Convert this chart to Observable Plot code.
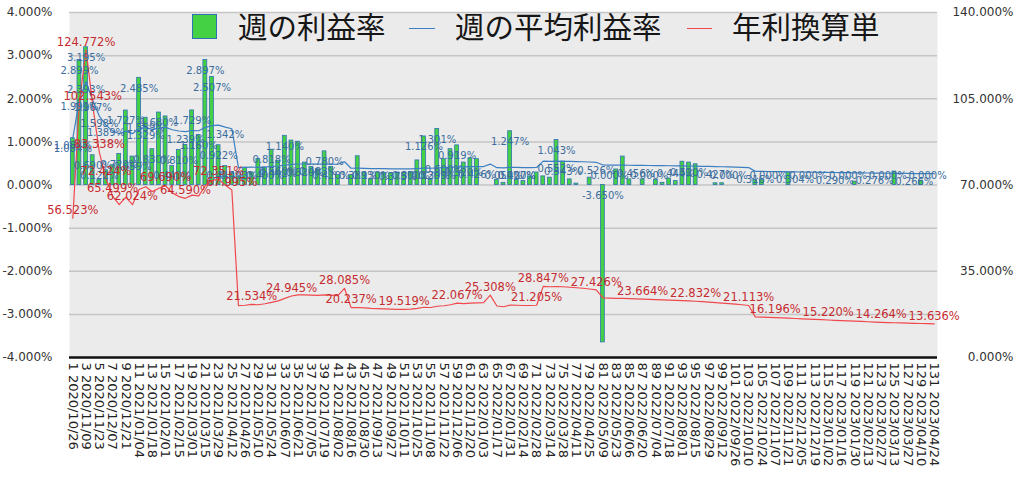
<!DOCTYPE html>
<html><head><meta charset="utf-8">
<script src="https://cdn.jsdelivr.net/npm/d3@7"></script>
<script src="https://cdn.jsdelivr.net/npm/@observablehq/plot@0.6"></script>
<style>
html,body{margin:0;padding:0;background:#fff;}
#wrap{position:relative;width:1024px;height:478px;overflow:hidden;}
#legend{position:absolute;left:0;top:0;width:1024px;height:60px;pointer-events:none;font-family:"Noto Sans CJK JP",sans-serif;}
.lt{position:absolute;top:11px;font-size:29.5px;line-height:29.5px;color:#161616;white-space:nowrap;}
.ln{position:absolute;top:27.5px;height:1.5px;}
</style></head><body>
<div id="wrap"><div id="chart"></div>
<div id="legend">
  <div style="position:absolute;left:192px;top:14px;width:23px;height:23px;background:#44d144;border:1px solid #2f72b3;"></div>
  <div class="lt" style="left:238px;">週の利益率</div>
  <div class="ln" style="left:409px;width:26px;background:#3c7fc2;"></div>
  <div class="lt" style="left:455px;">週の平均利益率</div>
  <div class="ln" style="left:687px;width:25px;background:#f0484c;"></div>
  <div class="lt" style="left:732px;">年利換算単</div>
</div></div>
<script>
// week numbers (categories)
const weekNo = d3.range(1, 132);

// 週の利益率 (%), left axis
const weeklyRate = [
  1.084, 2.899, 3.195, 0.690, 0.122, 0.344, 0.459, 0.720, 1.727, 0.659,
  2.485, 1.559, 0.830, 1.680, 1.590, 0.440, 0.810, 0.930, 1.729, 1.160,
  2.897, 2.507, 0.922, 0.440, 0.290, 0.200, 0.400, 0.290, 0.600, 0.400,
  0.818, 0.560, 1.140, 1.030, 1.004, 0.520, 0.420, 0.360, 0.780, 0.420,
  0.230, 0.000, 0.230, 0.667, 0.290, 0.130, 0.290, 0.280, 0.270, 0.290,
  0.280, 0.300, 0.570, 1.126, 0.120, 1.301, 0.600, 0.830, 0.919, 0.520,
  0.620, 0.600, 0.000, 0.000, 0.120, 0.050, 1.247, 0.120, 0.090, 0.200,
  0.290, 0.200, 0.170, 1.043, 0.543, 0.130, 0.032, 0.000, 0.170, 0.000,
  -3.650, 0.000, 0.360, 0.659, 0.130, 0.000, 0.130, 0.000, 0.120, 0.050,
  0.150, 0.090, 0.540, 0.520, 0.480, 0.000, 0.000, 0.040, 0.040, 0.000,
  0.000, 0.000, 0.000, 0.114, 0.110, 0.000, 0.000, 0.000, 0.290, 0.000,
  0.000, 0.000, 0.000, 0.000, 0.000, 0.000, 0.000, 0.000, 0.079, 0.000,
  0.000, 0.000, 0.000, 0.000, 0.312, 0.000, 0.000, 0.000, 0.100, 0.000, 0.000
];

// 週の平均利益率 (%), left axis
const avgRate = [
  1.084, 1.991, 2.393, 1.967, 1.598, 1.389, 1.256, 1.189, 1.248, 1.190,
  1.308, 1.329, 1.291, 1.318, 1.337, 1.281, 1.252, 1.239, 1.264, 1.258,
  1.337, 1.377, 1.388, 1.342, 1.304, 0.403, 0.407, 0.413, 0.410, 0.418,
  0.430, 0.441, 0.460, 0.478, 0.487, 0.487, 0.485, 0.483, 0.487, 0.485,
  0.481, 0.539, 0.388, 0.389, 0.385, 0.382, 0.380, 0.378, 0.376, 0.375,
  0.374, 0.376, 0.382, 0.391, 0.389, 0.399, 0.403, 0.410, 0.423, 0.420,
  0.424, 0.426, 0.428, 0.485, 0.401, 0.395, 0.408, 0.407, 0.405, 0.405,
  0.407, 0.553, 0.550, 0.552, 0.550, 0.547, 0.543, 0.539, 0.533, 0.526,
  0.464, 0.462, 0.460, 0.460, 0.458, 0.456, 0.454, 0.452, 0.450, 0.448,
  0.446, 0.444, 0.442, 0.440, 0.438, 0.434, 0.431, 0.427, 0.423, 0.419,
  0.415, 0.410, 0.405, 0.316, 0.315, 0.313, 0.311, 0.308, 0.306, 0.304,
  0.301, 0.299, 0.296, 0.294, 0.292, 0.290, 0.287, 0.285, 0.283, 0.280,
  0.278, 0.276, 0.274, 0.272, 0.271, 0.269, 0.268, 0.266, 0.264, 0.263, 0.262
];

// 年利換算単 (%), right axis
const annualRate = [
  56.523, 103.8, 124.772, 102.543, 83.338, 72.424, 65.499, 62.0, 65.1, 62.024,
  68.2, 69.3, 67.3, 68.7, 69.690, 66.8, 65.3, 64.590, 65.9, 65.6,
  69.7, 71.8, 72.351, 70.0, 67.995, 21.0, 21.2, 21.534, 21.4, 21.8,
  22.4, 23.0, 24.0, 24.945, 25.4, 25.4, 25.3, 25.2, 25.4, 25.3,
  25.1, 28.085, 20.237, 20.3, 20.1, 19.9, 19.8, 19.7, 19.6, 19.55,
  19.519, 19.6, 19.9, 20.4, 20.3, 20.8, 21.0, 21.4, 22.067, 21.9,
  22.1, 22.2, 22.3, 25.308, 20.9, 20.6, 21.3, 21.2, 21.1, 21.1,
  21.205, 28.847, 28.7, 28.8, 28.7, 28.5, 28.3, 28.1, 27.8, 27.426,
  24.2, 24.1, 24.0, 24.0, 23.9, 23.8, 23.664, 23.55, 23.45, 23.35,
  23.25, 23.15, 23.05, 22.95, 22.832, 22.65, 22.45, 22.25, 22.05, 21.85,
  21.65, 21.4, 21.113, 16.5, 16.4, 16.3, 16.196, 16.07, 15.95, 15.83,
  15.71, 15.59, 15.46, 15.34, 15.22, 15.10, 14.98, 14.86, 14.74, 14.62,
  14.50, 14.38, 14.264, 14.19, 14.11, 14.03, 13.95, 13.87, 13.79, 13.71, 13.636
];

// weeks whose annualized value carries a visible label
const annualLabelWeeks = [1,3,4,5,6,7,10,15,18,23,25,28,34,42,43,51,59,64,71,72,80,87,95,103,107,115,123,131];

// x tick labels (odd weeks)
const tickWeeks = d3.range(1, 132, 2);
const tickDates = [
  "2020/10/26","2020/11/09","2020/11/23","2020/12/07","2020/12/21",
  "2021/01/04","2021/01/18","2021/02/01","2021/02/15","2021/03/01",
  "2021/03/15","2021/03/29","2021/04/12","2021/04/26","2021/05/10",
  "2021/05/24","2021/06/07","2021/06/21","2021/07/05","2021/07/19",
  "2021/08/02","2021/08/16","2021/08/30","2021/09/13","2021/09/27",
  "2021/10/11","2021/10/25","2021/11/08","2021/11/22","2021/12/06",
  "2021/12/20","2022/01/03","2022/01/17","2022/01/31","2022/02/14",
  "2022/02/28","2022/03/14","2022/03/28","2022/04/11","2022/04/25",
  "2022/05/09","2022/05/23","2022/06/06","2022/06/20","2022/07/04",
  "2022/07/18","2022/08/01","2022/08/15","2022/08/29","2022/09/12",
  "2022/09/26","2022/10/10","2022/10/24","2022/11/07","2022/11/21",
  "2022/12/05","2022/12/19","2023/01/02","2023/01/16","2023/01/30",
  "2023/02/13","2023/02/27","2023/03/13","2023/03/27","2023/04/10",
  "2023/04/24"
];
const leftTicks = [-4, -3, -2, -1, 0, 1, 2, 3, 4];
const rightTicks = [0, 35, 70, 105, 140];

// right axis (0–140%) mapped onto left axis (-4–4%)
const toLeft = a => a / 17.5 - 4;

const rows = weekNo.map((w, i) => ({week: w, rate: weeklyRate[i], avg: avgRate[i], annual: annualRate[i], annualY: toLeft(annualRate[i])}));
const dateOf = new Map(tickWeeks.map((w, i) => [w, tickDates[i]]));

const common = {
  width: 1024, height: 478,
  marginLeft: 69, marginRight: 87, marginTop: 12, marginBottom: 121,
  x: {type: "band", domain: weekNo, padding: 0, round: false},
  y: {domain: [-4, 4]},
  style: {background: "transparent", fontFamily: "DejaVu Sans"}
};

// probe scales for label de-cluttering
const probe = Plot.plot({...common, marks: [Plot.barY(rows, {x: "week", y: "rate"})]});
const xs = probe.scale("x"), ys = probe.scale("y");
const cxOf = w => xs.apply(w) + xs.bandwidth / 2;
const ctx = document.createElement("canvas").getContext("2d");
const tw = (t, px) => { ctx.font = px + "px 'DejaVu Sans'"; return ctx.measureText(t).width; };
function greedy(items, h) {
  let last = null;
  return items.filter(it => {
    if (last && Math.abs(it.cx - last.cx) < (it.w + last.w) / 2 && Math.abs(it.cy - last.cy) < h) return false;
    last = it; return true;
  });
}
const fmt = v => v.toFixed(3) + "%";
const y0 = ys.apply(0);
const barItems = rows.map(d => {
  const text = fmt(d.rate);
  let mode, cy;
  if (d.rate < 0) { mode = "neg"; cy = y0 + 11; }
  else {
    const inside = ys.apply(d.rate) + 10.5;
    if (inside <= y0 - 9) { mode = "in"; cy = inside; } else { mode = "zero"; cy = y0 - 9; }
  }
  return {...d, text, mode, cx: cxOf(d.week), cy, w: tw(text, 10)};
});
const barShown = greedy(barItems, 10);
const avgShown = greedy(rows.map(d => ({...d, text: fmt(d.avg), cx: cxOf(d.week), cy: ys.apply(d.avg) + 8, w: tw(fmt(d.avg), 10)})), 9);
const annShown = rows.filter(d => annualLabelWeeks.includes(d.week)).map(d => ({...d, text: fmt(d.annual)}));

const blueTxt = "#3a6d9e", redTxt = "#c62b2f";
const chart = Plot.plot({
  ...common,
  marks: [
    Plot.frame({fill: "#ebebeb", stroke: null}),
    Plot.ruleY(leftTicks.filter(t => t > -4), {stroke: "#c5c5c5", strokeWidth: 1.5}),
    Plot.ruleY([-4], {stroke: "#111", strokeWidth: 2.5}),
    Plot.axisY({ticks: leftTicks, tickFormat: d => d.toFixed(3) + "%", tickSize: 0, tickPadding: 17, fontSize: 12, fontFamily: "DejaVu Sans", color: "#333", label: null}),
    Plot.text(rightTicks, {y: toLeft, text: d => d.toFixed(3) + "%", frameAnchor: "right", dx: 76, textAnchor: "end", fontSize: 12, fontFamily: "DejaVu Sans", fill: "#333"}),
    Plot.axisX({ticks: tickWeeks, tickFormat: w => w + " " + dateOf.get(w), tickRotate: 90, tickSize: 0, tickPadding: 5, fontSize: 13, fontFamily: "DejaVu Sans", color: "#222", label: null}),
    Plot.barY(rows, {x: "week", y: "rate", fill: "#44d144", stroke: "#2f72b3", strokeWidth: 0.8, insetLeft: 1.4, insetRight: 1.4}),
    Plot.line(rows, {x: "week", y: "avg", stroke: "#3c7fc2", strokeWidth: 1.2}),
    Plot.line(rows, {x: "week", y: "annualY", stroke: "#f0484c", strokeWidth: 1.2}),
    Plot.text(barShown.filter(d => d.mode === "in"), {x: "week", y: "rate", text: "text", dy: 10.5, fontSize: 10, fontFamily: "DejaVu Sans", fill: blueTxt}),
    Plot.text(barShown.filter(d => d.mode === "zero"), {x: "week", y: () => 0, text: "text", dy: -9, fontSize: 10, fontFamily: "DejaVu Sans", fill: blueTxt}),
    Plot.text(barShown.filter(d => d.mode === "neg"), {x: "week", y: () => 0, text: "text", dy: 11, fontSize: 10, fontFamily: "DejaVu Sans", fill: blueTxt}),
    Plot.text(avgShown, {x: "week", y: "avg", text: "text", dy: 8, fontSize: 10, fontFamily: "DejaVu Sans", fill: blueTxt}),
    Plot.text(annShown, {x: "week", y: "annualY", text: "text", dy: -8, fontSize: 11.5, fontFamily: "DejaVu Sans", fill: redTxt})
  ]
});
document.getElementById("chart").append(chart);
</script>
</body></html>
